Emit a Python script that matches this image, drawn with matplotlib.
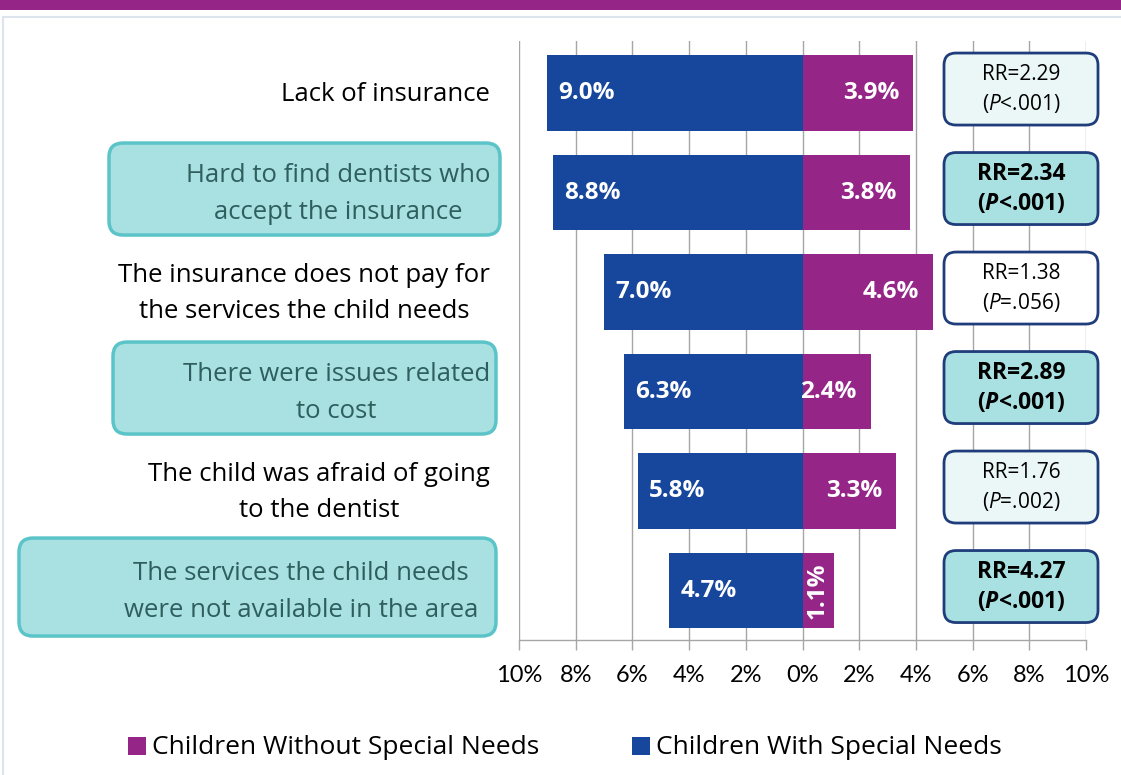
import matplotlib
matplotlib.use('Agg')
import matplotlib.pyplot as plt
from matplotlib.patches import FancyBboxPatch, Rectangle
from matplotlib.transforms import IdentityTransform

# ---------------- data ----------------
categories = [
    "Lack of insurance",
    "Hard to find dentists who\naccept the insurance",
    "The insurance does not pay for\nthe services the child needs",
    "There were issues related\nto cost",
    "The child was afraid of going\nto the dentist",
    "The services the child needs\nwere not available in the area",
]
with_special_needs = [9.0, 8.8, 7.0, 6.3, 5.8, 4.7]
without_special_needs = [3.9, 3.8, 4.6, 2.4, 3.3, 1.1]
rr_values = ["2.29", "2.34", "1.38", "2.89", "1.76", "4.27"]
p_values = ["<.001", "<.001", "=.056", "<.001", "=.002", "<.001"]
highlighted = [False, True, False, True, False, True]
xtick_values = [-10, -8, -6, -4, -2, 0, 2, 4, 6, 8, 10]
xtick_labels = ["10%", "8%", "6%", "4%", "2%", "0%", "2%", "4%", "6%", "8%", "10%"]
legend_labels = ["Children Without Special Needs", "Children With Special Needs"]

# ---------------- style ----------------
BLUE = "#17479d"
PURPLE = "#952688"
TEAL_FILL = "#a9e0e1"
TEAL_EDGE = "#5bc4c8"
TEAL_TEXT = "#2e5e5e"
NAVY = "#1f3d7a"
GRID = "#a6a6a6"
LIGHT_FILLS = ["#ebf7f7", TEAL_FILL, "#ffffff", TEAL_FILL, "#ebf7f7", TEAL_FILL]
OPS = ["Open Sans", "DejaVu Sans"]
TCK = ["Lato", "DejaVu Sans"]

plt.rcParams['mathtext.fontset'] = 'custom'
plt.rcParams['mathtext.rm'] = 'Open Sans'
plt.rcParams['mathtext.it'] = 'Open Sans:italic'
plt.rcParams['mathtext.bf'] = 'Open Sans:bold'
plt.rcParams['mathtext.bfit'] = 'Open Sans:italic:bold'

W, H = 1121, 775
fig = plt.figure(figsize=(W / 100, H / 100), dpi=100)
fig.patch.set_facecolor("white")

# top band and panel border
fig.add_artist(Rectangle((0, 1 - 10 / H), 1, 10 / H, transform=fig.transFigure,
                         facecolor="#952688", edgecolor="none"))
fig.add_artist(plt.Line2D([3 / W, 3 / W], [0, 1 - 17 / H], transform=fig.transFigure,
                          color="#dde4ee", lw=1.5))
fig.add_artist(plt.Line2D([3 / W, 1], [1 - 17 / H, 1 - 17 / H], transform=fig.transFigure,
                          color="#dde4ee", lw=1.5))

ax_left, ax_right, ax_top, ax_bot = 519, 1086, 41, 640
ax = fig.add_axes([ax_left / W, 1 - ax_bot / H, (ax_right - ax_left) / W, (ax_bot - ax_top) / H])
ax.set_xlim(-10, 10)
ax.set_ylim(len(categories) - 0.503, -0.523)
ax.set_facecolor("none")

ypos = list(range(len(categories)))
neg = [-v for v in with_special_needs]
ax.barh(ypos, neg, height=0.76, color=BLUE, zorder=3)
ax.barh(ypos, without_special_needs, height=0.76, color=PURPLE, zorder=3)

# gridlines
for xv in xtick_values:
    ax.axvline(xv, color=GRID, lw=1, zorder=1)
for s in ["top", "right", "left"]:
    ax.spines[s].set_visible(False)
ax.spines["bottom"].set_color(GRID)
ax.spines["bottom"].set_linewidth(1)
ax.set_xticks(xtick_values)
ax.set_xticklabels(xtick_labels, fontfamily=TCK, fontsize=17)
ax.tick_params(axis='x', length=7, color=GRID, width=1, pad=11)
ax.set_yticks([])

BAR_FS = 17.5
# bar labels
for i in ypos:
    ax.annotate(f"{with_special_needs[i]:.1f}%", xy=(neg[i], i), xytext=(8, 0),
                textcoords="offset points", ha="left", va="center", color="white",
                fontsize=BAR_FS, fontweight="bold", fontfamily=OPS, zorder=5)
    if without_special_needs[i] < 2:
        ax.text(without_special_needs[i] / 2, i, f"{without_special_needs[i]:.1f}%",
                rotation=90, ha="center", va="center", color="white",
                fontsize=BAR_FS, fontweight="bold", fontfamily=OPS, zorder=5)
    else:
        ax.annotate(f"{without_special_needs[i]:.1f}%", xy=(without_special_needs[i], i),
                    xytext=(-10, 0), textcoords="offset points", ha="right", va="center",
                    color="white", fontsize=BAR_FS, fontweight="bold", fontfamily=OPS, zorder=5)

fig.canvas.draw()
ident = IdentityTransform()

def row_y(i):
    return ax.transData.transform((0, i))[1]

# category label boxes and texts
label_box_x = {1: (109, 500), 3: (113, 496), 5: (19, 496)}
label_box_h = {1: 92, 3: 92, 5: 98}
for i, lab in enumerate(categories):
    yc = row_y(i)
    if highlighted[i]:
        x0, x1 = label_box_x[i]
        h = label_box_h[i]
        yb = yc + 3.5 - h / 2
        fig.add_artist(FancyBboxPatch((x0, yb), x1 - x0, h,
                                      boxstyle="round,pad=0,rounding_size=14",
                                      transform=ident, facecolor=TEAL_FILL,
                                      edgecolor=TEAL_EDGE, lw=2.5, zorder=2))
        color = TEAL_TEXT
    else:
        color = "black"
    tx = 478 if i == 5 else 490
    fig.text(tx, yc - 1.5, lab, transform=ident, ha="right", va="center", multialignment="center",
             fontsize=18.5, fontfamily=OPS, color=color, linespacing=1.6, zorder=3)

# RR boxes
for i in ypos:
    yc = row_y(i)
    bh = 72
    fig.add_artist(FancyBboxPatch((944, yc - bh / 2 + 4), 154, bh,
                                  boxstyle="round,pad=0,rounding_size=12",
                                  transform=ident, facecolor=LIGHT_FILLS[i],
                                  edgecolor=NAVY, lw=2, zorder=2))
    if highlighted[i]:
        txt = f"RR={rr_values[i]}\n($\\mathbfit{{P}}${p_values[i]})"
        fw = "bold"
        fs = 16.5
        ls = 1.3
    else:
        txt = f"RR={rr_values[i]}\n($\\mathit{{P}}${p_values[i]})"
        fw = "normal"
        fs = 15
        ls = 1.4
    fig.text(1021, yc + 3.5, txt, transform=ident, ha="center", va="center",
             multialignment="center", fontsize=fs, fontfamily=OPS, fontweight=fw,
             color="black", linespacing=ls, zorder=3)

# legend
ly = H - 746
for (x0, lab, col) in [(128, legend_labels[0], PURPLE), (632, legend_labels[1], BLUE)]:
    fig.add_artist(Rectangle((x0, ly - 9), 18, 18, transform=ident, facecolor=col,
                             edgecolor="none"))
    fig.text(x0 + 24, ly - 1, lab, transform=ident, ha="left", va="center",
             fontsize=19, fontfamily=OPS, color="black")

fig.savefig("out.png", dpi=100)
